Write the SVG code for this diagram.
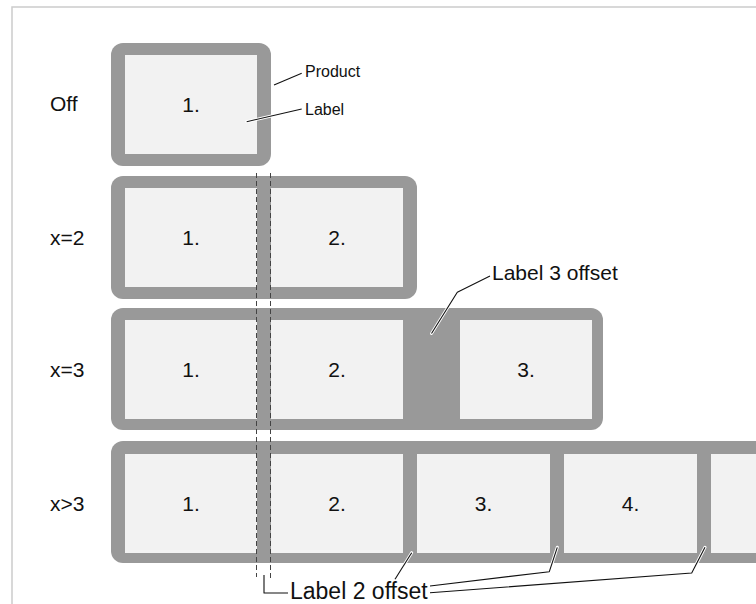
<svg xmlns="http://www.w3.org/2000/svg" width="756" height="604" viewBox="0 0 756 604">
<style>
.frame{fill:none;stroke:#cccccc;stroke-width:1.5}
.prod{fill:#999999}
.cell{fill:#f2f2f2}
.t{font-family:"Liberation Sans",Arial,sans-serif;fill:#111111}
.num{font-size:21px;text-anchor:middle}
.row{font-size:21px}
.sm{font-size:16px}
.halo{fill:none;stroke:#ffffff;stroke-width:3;stroke-linejoin:round;stroke-linecap:round}
.lead{fill:none;stroke:#111111;stroke-width:1.1;stroke-linejoin:round}
.dash{fill:none;stroke:#444444;stroke-width:1;stroke-dasharray:5 3}
</style>
<rect width="756" height="604" fill="#ffffff"/>
<path class="frame" d="M12,604 V7 H756"/>

<g id="row-off">
  <text class="t row" x="50" y="111">Off</text>
  <rect class="prod" x="111" y="43" width="160" height="123" rx="12"/>
  <g id="off-cell1"><rect class="cell" x="125" y="55" width="132" height="99"/><text class="t num" x="191" y="112">1.</text></g>
</g>

<g id="row-x2">
  <text class="t row" x="50" y="245">x=2</text>
  <rect class="prod" x="111" y="176" width="306" height="123" rx="12"/>
  <g id="x2-cell1"><rect class="cell" x="125" y="188" width="132" height="99"/><text class="t num" x="191" y="245">1.</text></g>
  <g id="x2-cell2"><rect class="cell" x="271" y="188" width="132" height="99"/><text class="t num" x="337" y="245">2.</text></g>
</g>

<g id="row-x3">
  <text class="t row" x="50" y="377">x=3</text>
  <rect class="prod" x="111" y="308" width="492" height="122" rx="12"/>
  <g id="x3-cell1"><rect class="cell" x="125" y="320" width="132" height="99"/><text class="t num" x="191" y="377">1.</text></g>
  <g id="x3-cell2"><rect class="cell" x="271" y="320" width="132" height="99"/><text class="t num" x="337" y="377">2.</text></g>
  <g id="x3-cell3"><rect class="cell" x="460" y="320" width="132" height="99"/><text class="t num" x="526" y="377">3.</text></g>
</g>

<g id="row-xgt3">
  <text class="t row" x="50" y="511">x&gt;3</text>
  <rect class="prod" x="111" y="441" width="700" height="122" rx="12"/>
  <g id="xgt3-cell1"><rect class="cell" x="125" y="454" width="132" height="99"/><text class="t num" x="191" y="511">1.</text></g>
  <g id="xgt3-cell2"><rect class="cell" x="271" y="454" width="132" height="99"/><text class="t num" x="337" y="511">2.</text></g>
  <g id="xgt3-cell3"><rect class="cell" x="417" y="454" width="133" height="99"/><text class="t num" x="483.5" y="511">3.</text></g>
  <g id="xgt3-cell4"><rect class="cell" x="564" y="454" width="133" height="99"/><text class="t num" x="630.5" y="511">4.</text></g>
  <g id="xgt3-cell5"><rect class="cell" x="711" y="454" width="132" height="99"/></g>
</g>

<g id="connectors">
  <path class="dash" d="M256.5,173 V577"/>
  <path class="dash" d="M270.5,173 V579"/>
  <path class="halo" d="M274,85 L301.7,73.3"/>
  <path class="lead" d="M274,85 L301.7,73.3"/>
  <path class="halo" d="M246.7,121.7 L301.7,109"/>
  <path class="lead" d="M246.7,121.7 L301.7,109"/>
  <path class="halo" d="M431.5,333.5 L457.3,292.3 L490,276"/>
  <path class="lead" d="M431.5,333.5 L457.3,292.3 L490,276"/>
  <path class="lead" d="M264,575 V593 H288"/>
  <path class="halo" d="M395,579.3 L411.7,552.7"/>
  <path class="lead" d="M395,579.3 L411.7,552.7"/>
  <path class="halo" d="M430,586 L549.3,571.7 L557.3,547.3"/>
  <path class="lead" d="M430,586 L549.3,571.7 L557.3,547.3"/>
  <path class="halo" d="M430,592.7 L691.7,573 L705,547.3"/>
  <path class="lead" d="M430,592.7 L691.7,573 L705,547.3"/>
</g>

<g id="labels">
  <text class="t sm" x="305" y="77">Product</text>
  <text class="t sm" x="305" y="115">Label</text>
  <text class="t" style="font-size:21px" x="492" y="280">Label 3 offset</text>
  <text class="t" style="font-size:23px" x="290" y="599">Label 2 offset</text>
</g>
</svg>
